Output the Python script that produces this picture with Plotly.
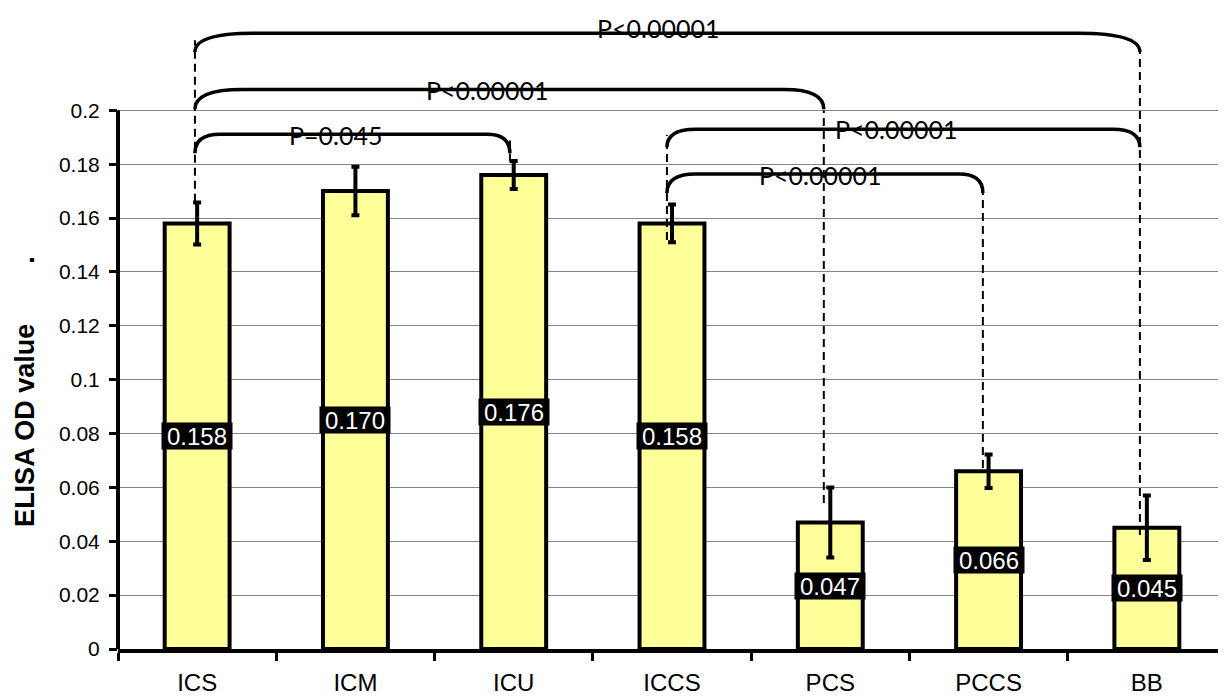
import plotly.graph_objects as go

# ---- data ----
categories = ["ICS", "ICM", "ICU", "ICCS", "PCS", "PCCS", "BB"]
od_values = [0.158, 0.170, 0.176, 0.158, 0.047, 0.066, 0.045]
od_errors = [0.0078, 0.009, 0.0052, 0.007, 0.013, 0.0062, 0.012]
y_ticks = [0, 0.02, 0.04, 0.06, 0.08, 0.1, 0.12, 0.14, 0.16, 0.18, 0.2]
y_tick_text = ["0", "0.02", "0.04", "0.06", "0.08", "0.1", "0.12", "0.14", "0.16", "0.18", "0.2"]

# comparisons: (group a, group b, label)
comparisons = [(0, 6, "P<0.00001"), (0, 4, "P<0.00001"), (0, 2, "P=0.045"),
               (3, 6, "P<0.00001"), (3, 5, "P<0.00001")]

# ---- layout of the comparison brackets (positions / styles) ----
end_offset = {0: -0.014, 2: -0.024, 3: -0.032, 4: -0.041, 5: -0.036, 6: -0.044}
bracket_top = [0.2286, 0.2077, 0.1911, 0.1930, 0.1763]
bracket_end = [0.2216, 0.2004, 0.1840, 0.1863, 0.1693]
bracket_round = [(0.37, 0.39), (0.30, 0.25), (0.16, 0.145), (0.18, 0.17), (0.18, 0.15)]
label_pos = [(2.911, 0.2305), (1.831, 0.2075), (0.877, 0.1910), (4.415, 0.1932), (3.935, 0.1760)]
# dashed drop lines: (group, y top, y bottom)
drops = [(0, 0.226, 0.166), (2, 0.189, 0.181), (4, 0.200, 0.0542),
         (3, 0.1908, 0.1518), (5, 0.1693, 0.0672), (6, 0.2216, 0.0423)]

fig = go.Figure()
fig.add_trace(go.Bar(
    x=list(range(len(categories))), y=od_values, width=0.41,
    marker=dict(color="#FFFF99", line=dict(color="black", width=4)),
    error_y=dict(type="data", array=od_errors, color="black", thickness=4, width=4),
    hoverinfo="skip",
))

shapes = []
# left y axis line (only from 0 to 0.2)
shapes.append(dict(type="line", xref="paper", yref="y", x0=0, x1=0, y0=0, y1=0.2,
                   line=dict(color="black", width=4)))

for k, (a, b, lab) in enumerate(comparisons):
    xl = a + end_offset[a]
    xr = b + end_offset[b]
    yt = bracket_top[k]
    ye = bracket_end[k]
    rl, rr = bracket_round[k]
    path = (f"M {xl},{ye} Q {xl},{yt} {xl + rl},{yt} "
            f"L {xr - rr},{yt} Q {xr},{yt} {xr},{ye}")
    shapes.append(dict(type="path", xref="x", yref="y", path=path,
                       line=dict(color="black", width=3.5)))

for g, y1, y0 in drops:
    xg = g + end_offset[g]
    shapes.append(dict(type="line", xref="x", yref="y", x0=xg, x1=xg, y0=y0, y1=y1,
                       line=dict(color="black", width=2, dash="8px,5px")))

annotations = []
for k, (a, b, lab) in enumerate(comparisons):
    lx, ly = label_pos[k]
    annotations.append(dict(x=lx, y=ly, xref="x", yref="y", text=lab, showarrow=False,
                            font=dict(family="Lato", size=25, color="black"),
                            xanchor="center", yanchor="middle"))

for i, v in enumerate(od_values):
    annotations.append(dict(x=i, y=v / 2, xref="x", yref="y", text=f"{v:.3f}",
                            showarrow=False, bgcolor="black", width=70, height=26,
                            borderpad=0,
                            font=dict(family="Liberation Sans, Arial", size=24, color="white")))

annotations.append(dict(x=-0.084, y=0.0958, xref="paper", yref="y",
                        xanchor="center", yanchor="middle",
                        text="<b>ELISA OD value" + "\u00a0" * 8 + ".</b>",
                        textangle=-90, showarrow=False,
                        font=dict(family="Liberation Sans, Arial", size=27, color="black")))

# page body has an 8px margin, so the figure is 8px smaller on each axis
fig.update_layout(
    width=1218, height=690,
    margin=dict(l=110, r=0, t=8, b=49, autoexpand=False),
    plot_bgcolor="white", paper_bgcolor="white",
    showlegend=False,
    shapes=shapes, annotations=annotations,
    xaxis=dict(range=[-0.5, 6.5], tickmode="array", tickvals=list(range(len(categories))),
               ticktext=categories, ticks="", showgrid=False, zeroline=False,
               showline=True, linecolor="black", linewidth=4, automargin=False,
               tickfont=dict(family="Liberation Sans, Arial", size=24, color="black"),
               ticklabelstandoff=9,
               minor=dict(tickmode="array", tickvals=[k - 0.5 for k in range(len(categories) + 1)],
                          ticks="outside", ticklen=8, tickwidth=3, tickcolor="black",
                          showgrid=False)),
    yaxis=dict(range=[0, 0.235], tickmode="array", tickvals=y_ticks, ticktext=y_tick_text,
               ticks="outside", ticklen=8, tickwidth=3, tickcolor="black",
               showgrid=True, gridcolor="#858585", gridwidth=1, zeroline=False,
               showline=False, automargin=False,
               tickfont=dict(family="Liberation Sans, Arial", size=21, color="black"),
               ticklabelstandoff=5),
)

fig.write_html("out.html")
